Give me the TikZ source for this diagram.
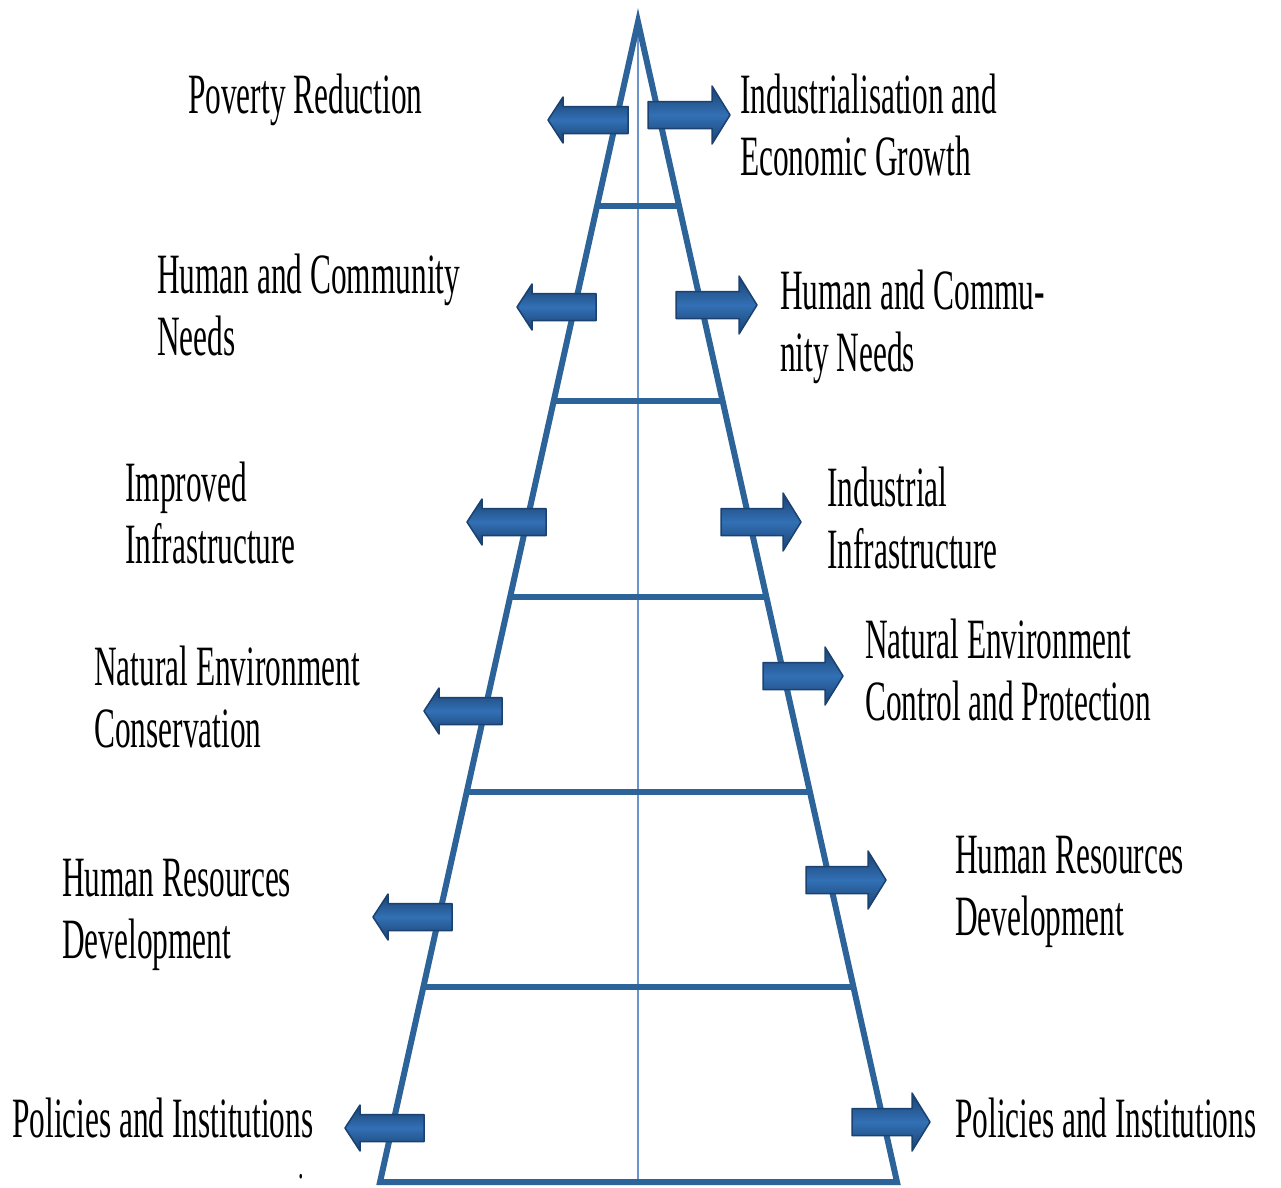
\documentclass[tikz,border=0pt]{standalone}
\usepackage{fontspec}
\setmainfont{Liberation Serif}[FakeStretch=0.55]
\usetikzlibrary{calc}
\definecolor{tri}{HTML}{2C6399}
\definecolor{midline}{HTML}{6A95CC}
\definecolor{adark}{HTML}{1A416F}
\definecolor{alight}{HTML}{3270B5}
\tikzset{
  lbl/.style={anchor=base west, inner sep=0pt, align=left, text=black,
    font=\fontsize{57}{62}\selectfont},
  arrowfill/.style={shading=axis, top color=adark, bottom color=adark,
    middle color=alight, draw=adark, line width=1.5pt, line join=round},
  triline/.style={draw=tri, line width=6pt},
}
% right-pointing block arrow: tail x, tip x, y
\newcommand{\rarr}[3]{\path[arrowfill] (#1,#3-13.5) -- (#2-18,#3-13.5) -- (#2-18,#3-29) -- (#2,#3) -- (#2-18,#3+29) -- (#2-18,#3+13.5) -- (#1,#3+13.5) -- cycle;}
% left-pointing block arrow: tip x, tail x, y
\newcommand{\larr}[3]{\path[arrowfill] (#2,#3-13.5) -- (#1+15,#3-13.5) -- (#1+15,#3-23) -- (#1,#3) -- (#1+15,#3+23) -- (#1+15,#3+13.5) -- (#2,#3+13.5) -- cycle;}
\begin{document}
\begin{tikzpicture}[x=1pt,y=-1pt]
\useasboundingbox (0,0) rectangle (1281,1187);
\coordinate (apex) at (638,22);
\coordinate (bl) at (380,1182);
\coordinate (br) at (897,1182);
\coordinate (bc) at (638,1182);
% centre line
\draw[midline, line width=2.2pt] (apex) -- (bc);
% triangle
\draw[triline, line join=miter] (apex) -- (bl) -- (br) -- cycle;
% rungs
\foreach \yy in {206,401,597,792,987}{
  \pgfmathsetmacro{\t}{(\yy-22)/1160}
  \draw[triline] ($(apex)!\t!(bl)$) -- ($(apex)!\t!(br)$);
}
% arrows
\larr{548}{628}{120}
\rarr{648}{730}{115}
\larr{517}{596}{307}
\rarr{676}{757}{305}
\larr{467}{546}{522}
\rarr{721}{801}{522}
\larr{424}{502}{711}
\rarr{763}{843}{676}
\larr{373}{452}{917}
\rarr{806}{886}{880}
\larr{345}{424}{1128}
\rarr{852}{930}{1122}
% labels left (base anchor = baseline of last line)
\node[lbl] (l1) at (188,113) {Poverty Reduction};
\node[lbl] (l2) at (157,355) {Human and Community\\Needs};
\node[lbl] (l3) at (125,563) {Improved\\Infrastructure};
\node[lbl] (l4) at (94,747) {Natural Environment\\Conservation};
\node[lbl] (l5) at (62,958) {Human Resources\\Development};
\node[lbl] (l6) at (12,1137) {Policies and Institutions};
\node[lbl, font=\fontsize{40}{40}\selectfont] (dot) at (298,1178) {.};
% labels right
\node[lbl] (r1) at (740,175) {Industrialisation and\\Economic Growth};
\node[lbl] (r2) at (780,371) {Human and Commu-\\nity Needs};
\node[lbl] (r3) at (827,568) {Industrial\\Infrastructure};
\node[lbl] (r4) at (865,720) {Natural Environment\\Control and Protection};
\node[lbl] (r5) at (955,935) {Human Resources\\Development};
\node[lbl] (r6) at (955,1137) {Policies and Institutions};
\end{tikzpicture}
\end{document}
